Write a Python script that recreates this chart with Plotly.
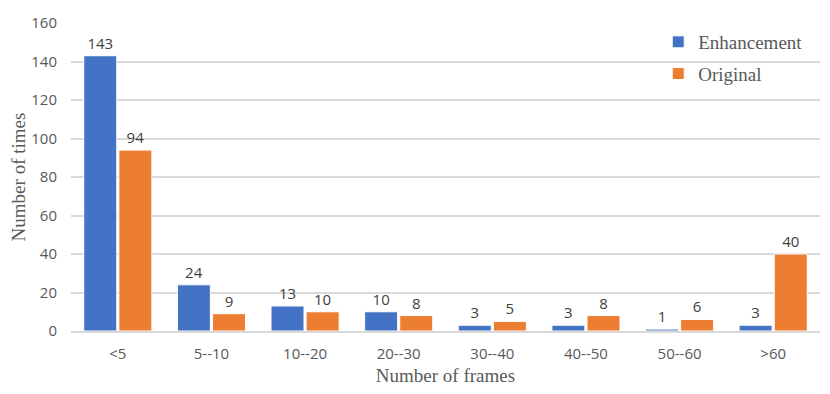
import plotly.graph_objects as go

categories = ["<5", "5--10", "10--20", "20--30", "30--40", "40--50", "50--60", ">60"]
enhancement = [143, 24, 13, 10, 3, 3, 1, 3]
original = [94, 9, 10, 8, 5, 8, 6, 40]
y_ticks = [0, 20, 40, 60, 80, 100, 120, 140, 160]

sans = "Open Sans, DejaVu Sans, sans-serif"
serif = "Liberation Serif, Times New Roman, serif"
label_font = dict(family=sans, size=15, color="#404040")

fig = go.Figure()
fig.add_trace(go.Bar(
    x=categories, y=enhancement, name="Enhancement", legendgroup="a",
    marker=dict(color="#4472C4", line=dict(color="white", width=1)),
    text=enhancement, textposition="outside", textfont=label_font, cliponaxis=False,
))
fig.add_trace(go.Bar(
    x=categories, y=original, name="Original", legendgroup="b",
    marker=dict(color="#ED7D31", line=dict(color="white", width=1)),
    text=original, textposition="outside", textfont=label_font, cliponaxis=False,
))

fig.update_layout(
    width=814, height=378,
    margin=dict(l=63, r=2, t=15, b=55),
    paper_bgcolor="white", plot_bgcolor="white",
    barmode="group", bargap=0.25, bargroupgap=0.06,
    showlegend=True,
    legend=dict(
        x=0.784, y=1.0, xanchor="left", yanchor="top",
        font=dict(family=serif, size=19, color="#595959"),
        traceorder="grouped", tracegroupgap=4, itemwidth=30,
        bgcolor="rgba(0,0,0,0)",
    ),
)
fig.update_xaxes(
    title=dict(text="Number of frames", font=dict(family=serif, size=19, color="#595959"), standoff=12),
    tickfont=dict(family=sans, size=15, color="#595959"), ticklabelstandoff=8,
    showline=True, linecolor="#D9D9D9", linewidth=1.5, ticks="", showgrid=False,
    automargin=False,
)
fig.update_yaxes(
    range=[0, 160], tickvals=y_ticks,
    title=dict(text="Number of times", font=dict(family=serif, size=19, color="#595959"), standoff=17),
    tickfont=dict(family=sans, size=15, color="#595959"), ticklabelstandoff=13,
    showgrid=True, gridcolor="#D9D9D9", gridwidth=1.5, zeroline=False, ticks="",
    automargin=False,
)

fig.write_html("out.html")
